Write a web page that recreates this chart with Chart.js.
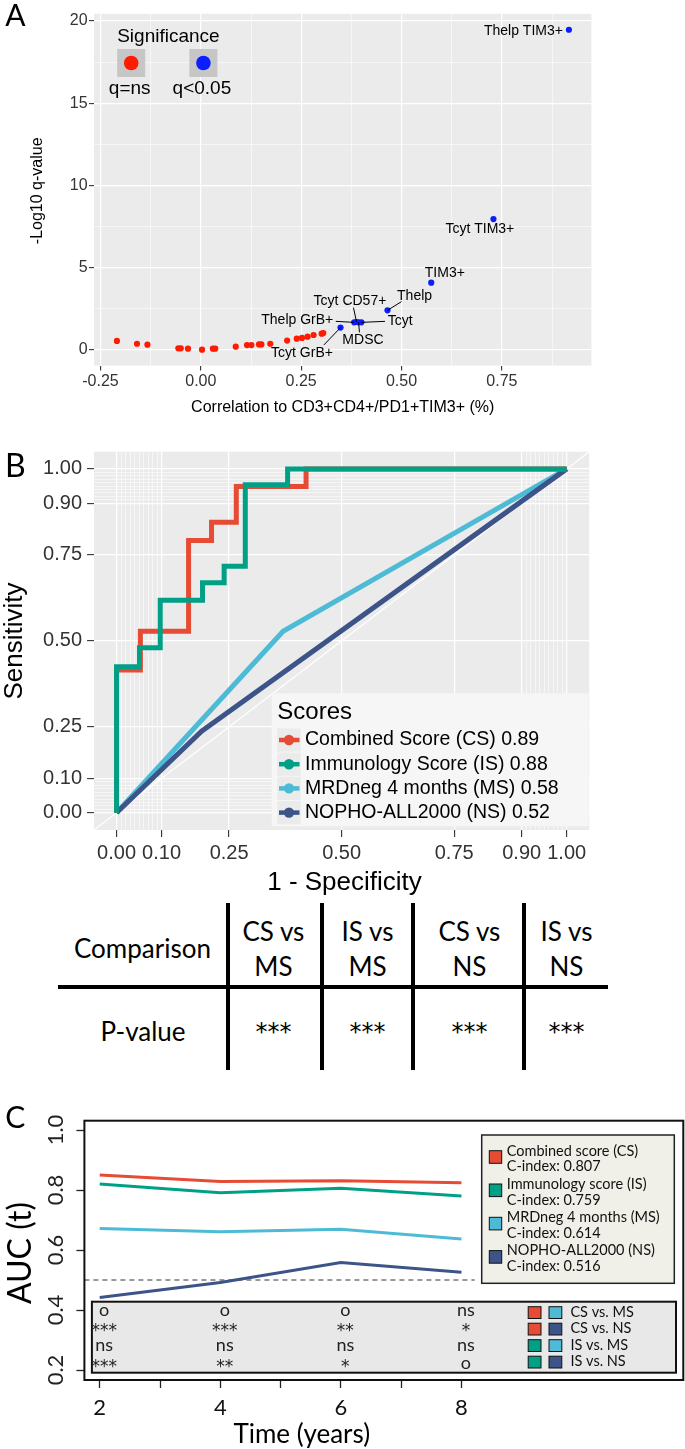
<!DOCTYPE html>
<html>
<head>
<meta charset="utf-8">
<script src="https://cdn.jsdelivr.net/npm/chart.js@4.4.1/dist/chart.umd.min.js"></script>
<style>
  html, body { margin: 0; padding: 0; background: #fff; }
  body { width: 685px; height: 1449px; position: relative; overflow: hidden; font-family: Lato, sans-serif; }
  canvas { position: absolute; left: 0; }
  #cA { top: 0; }
  #cB { top: 430px; }
  #cC { top: 1090px; }
  .t { position: absolute; text-align: center; white-space: nowrap; color: #000; font-family: Lato, sans-serif; }
  .ln { position: absolute; background: #000; }
</style>
</head>
<body>
<canvas id="cA" width="685" height="420"></canvas>
<canvas id="cB" width="685" height="470"></canvas>
<div id="tableB"></div>
<canvas id="cC" width="685" height="359"></canvas>
<script>
/* ================= DATA ================= */

// panel A : correlation vs -log10 q
const nsCorr = [-0.209, -0.159, -0.133, -0.056, -0.050, -0.032, 0.003, 0.030, 0.036, 0.087, 0.115,
                0.126, 0.145, 0.151, 0.173, 0.215, 0.239, 0.252, 0.266, 0.281, 0.301, 0.305];
const nsLogQ = [0.55, 0.38, 0.32, 0.10, 0.10, 0.08, 0.02, 0.08, 0.08, 0.20, 0.30,
                0.30, 0.34, 0.34, 0.38, 0.57, 0.69, 0.73, 0.81, 0.91, 0.99, 1.03];
const sigNames = ["Thelp TIM3+", "Tcyt TIM3+", "TIM3+", "Thelp", "Tcyt", "MDSC", "Tcyt CD57+", "Thelp GrB+", "Tcyt GrB+"];
const sigCorr = [0.917, 0.729, 0.574, 0.465, 0.400, 0.393, 0.388, 0.382, 0.348];
const sigLogQ = [19.47, 7.96, 4.09, 2.41, 1.68, 1.68, 1.70, 1.68, 1.36];
const aTicksX = [-0.25, 0, 0.25, 0.5, 0.75];
const aMinorX = [-0.125, 0.125, 0.375, 0.625, 0.875];
const aTicksY = [0, 5, 10, 15, 20];
const aMinorY = [2.5, 7.5, 12.5, 17.5];

// panel B : ROC curves
const scoreNamesB = ["Combined Score (CS)", "Immunology Score (IS)", "MRDneg 4 months (MS)", "NOPHO-ALL2000 (NS)"];
const aucB = ["0.89", "0.88", "0.58", "0.52"];
const csFpr = [0, 0, 0.053, 0.053, 0.160, 0.160, 0.211, 0.211, 0.266, 0.266, 0.421, 0.421, 1];
const csTpr = [0, 0.415, 0.415, 0.528, 0.528, 0.792, 0.792, 0.845, 0.845, 0.949, 0.949, 1, 1];
const isFpr = [0, 0, 0.051, 0.051, 0.097, 0.097, 0.191, 0.191, 0.239, 0.239, 0.286, 0.286, 0.380, 0.380, 1];
const isTpr = [0, 0.425, 0.425, 0.480, 0.480, 0.618, 0.618, 0.669, 0.669, 0.717, 0.717, 0.954, 0.954, 1, 1];
const msFpr = [0, 0.370, 1];
const msTpr = [0, 0.528, 1];
const nsFpr = [0, 0.189, 1];
const nsTpr = [0, 0.237, 1];
const bTicks = [0, 0.1, 0.25, 0.5, 0.75, 0.9, 1];
const bMinor = [0.01, 0.02, 0.03, 0.04, 0.05, 0.06, 0.07, 0.08, 0.09,
                0.91, 0.92, 0.93, 0.94, 0.95, 0.96, 0.97, 0.98, 0.99];
const compHeaders = [["CS vs", "MS"], ["IS vs", "MS"], ["CS vs", "NS"], ["IS vs", "NS"]];
const compP = ["***", "***", "***", "***"];

// panel C : time-dependent AUC
const years = [2, 4, 6, 8];
const aucCS = [0.850, 0.828, 0.831, 0.824];
const aucIS = [0.820, 0.791, 0.806, 0.780];
const aucMS = [0.672, 0.661, 0.669, 0.637];
const aucNS = [0.442, 0.492, 0.558, 0.526];
const refAuc = 0.5;
const scoreNamesC = ["Combined score (CS)", "Immunology score (IS)", "MRDneg 4 months (MS)", "NOPHO-ALL2000 (NS)"];
const cIndex = ["0.807", "0.759", "0.614", "0.516"];
const pairNames = ["CS vs. MS", "CS vs. NS", "IS vs. MS", "IS vs. NS"];
const pairSig = [["o", "o", "o", "ns"], ["***", "***", "**", "*"], ["ns", "ns", "ns", "ns"], ["***", "**", "*", "o"]];
const cTicksX = [2, 3, 4, 5, 6, 7, 8];
const cTicksY = [0.2, 0.4, 0.6, 0.8, 1.0];

/* ================= STYLE ================= */

const FONT_GG = "'Liberation Sans', Arial, sans-serif";
const FONT_C = "Lato, 'Open Sans', sans-serif";
const FONT_STAR = "'DejaVu Sans', sans-serif";
const RED = "#E64B35", GREEN = "#00A087", LBLUE = "#4DBBD5", NAVY = "#3C5488";
const scoreColors = [RED, GREEN, LBLUE, NAVY];
const pairColors = [[RED, LBLUE], [RED, NAVY], [GREEN, LBLUE], [GREEN, NAVY]];

// label placement for panel A (pixel offsets from the point)
const labelLayoutA = [
  { dx: -6, dy: 1, align: "right" },
  { dx: -13.6, dy: 10.3 },
  { dx: 13.6, dy: -9.3 },
  { dx: 27.1, dy: -14.3, seg: [14, -8.7] },
  { dx: 38.9, dy: -1, seg: [23.6, -1] },
  { dx: 4.4, dy: 17.3, seg: [0.9, 10] },
  { dx: -6.6, dy: -21, seg: [-3.1, -14.3] },
  { dx: -56.9, dy: -2, seg: [-18.4, -1] },
  { dx: -38.5, dy: 25.7, seg: [-16.6, 17.3] }
];

function txt(ctx, s, x, y, font, color, align, rot) {
  ctx.save();
  ctx.font = font;
  ctx.fillStyle = color || "#000";
  ctx.textAlign = align || "center";
  ctx.textBaseline = "middle";
  ctx.translate(x, y);
  if (rot) ctx.rotate(rot);
  ctx.fillText(s, 0, 0);
  ctx.restore();
}

const pts = (xs, ys) => xs.map((x, i) => ({ x: x, y: ys[i] }));

/* ================= SHARED PLUGINS ================= */

const panelBg = {
  id: "panelBg",
  beforeDraw(chart, args, opts) {
    const { ctx, chartArea: a } = chart;
    ctx.save();
    ctx.fillStyle = opts.color || "#ebebeb";
    ctx.fillRect(a.left, a.top, a.right - a.left, a.bottom - a.top);
    ctx.restore();
  }
};

function ggAxis(major, minor, fmt, min, max, size, fontPx, tickLen, pad) {
  const all = major.concat(minor).sort((a, b) => a - b);
  const isMajor = c => c.tick && major.includes(c.tick.value);
  return {
    type: "linear", min: min, max: max,
    afterBuildTicks: ax => { ax.ticks = all.map(v => ({ value: v })); },
    afterFit: s => { if (s.isHorizontal()) s.height = size; else s.width = size; },
    grid: {
      color: "#ffffff",
      lineWidth: c => isMajor(c) ? 1.2 : 0.55,
      tickColor: c => isMajor(c) ? "#333333" : "rgba(0,0,0,0)",
      tickLength: tickLen,
      tickWidth: 1.1
    },
    border: { display: false },
    ticks: {
      autoSkip: false, maxRotation: 0, minRotation: 0, padding: pad,
      color: "#333333", font: { family: FONT_GG, size: fontPx },
      callback: v => major.includes(v) ? fmt(v) : ""
    }
  };
}

/* ================= PANEL A ================= */

const labelsA = {
  id: "labelsA",
  afterDatasetsDraw(chart) {
    const { ctx, scales: { x, y } } = chart;
    sigNames.forEach((name, i) => {
      const px = x.getPixelForValue(sigCorr[i]);
      const py = y.getPixelForValue(sigLogQ[i]);
      const L = labelLayoutA[i];
      if (L.seg) {
        ctx.save();
        ctx.beginPath();
        ctx.moveTo(px, py);
        ctx.lineTo(px + L.seg[0], py + L.seg[1]);
        ctx.strokeStyle = "#000";
        ctx.lineWidth = 1;
        ctx.stroke();
        ctx.restore();
      }
      txt(ctx, name, px + L.dx, py + L.dy, `14px ${FONT_GG}`, "#000", L.align || "center");
    });
  }
};

const decorA = {
  id: "decorA",
  afterDraw(chart) {
    const ctx = chart.ctx;
    const a = chart.chartArea;
    // legend
    txt(ctx, "Significance", 117.2, 36.7, `19px ${FONT_GG}`, "#000", "left");
    [[117.2, "#ff1a00", "q=ns"], [189.4, "#0a1eff", "q<0.05"]].forEach(k => {
      ctx.fillStyle = "#c6c6c6";
      ctx.fillRect(k[0], 49, 28, 28);
      ctx.beginPath();
      ctx.arc(k[0] + 14, 63, 7.3, 0, Math.PI * 2);
      ctx.fillStyle = k[1];
      ctx.fill();
      txt(ctx, k[2], k[0] + 12.5, 88.3, `19px ${FONT_GG}`, "#000", "center");
    });
    // titles
    txt(ctx, "Correlation to CD3+CD4+/PD1+TIM3+ (%)", (a.left + a.right) / 2, 408, `16px ${FONT_GG}`, "#000");
    txt(ctx, "-Log10 q-value", 37.2, 190.8, `16px ${FONT_GG}`, "#000", "center", -Math.PI / 2);
    txt(ctx, "A", 15.3, 16, `30px ${FONT_C}`, "#000");
  }
};

new Chart(document.getElementById("cA"), {
  type: "scatter",
  data: {
    datasets: [
      { data: pts(nsCorr, nsLogQ), backgroundColor: "#ff1a00", borderWidth: 0, pointRadius: 3.1 },
      { data: pts(sigCorr, sigLogQ), backgroundColor: "#0a1eff", borderWidth: 0, pointRadius: 3.1 }
    ]
  },
  options: {
    responsive: false, animation: false,
    layout: { padding: { left: 0, right: 93.6, top: 13.8, bottom: 0 } },
    plugins: { legend: { display: false }, tooltip: { enabled: false }, panelBg: { color: "#ebebeb" } },
    scales: {
      x: ggAxis(aTicksX, aMinorX, v => v.toFixed(2), -0.266, 0.973, 54.4, 16, 5, 1),
      y: ggAxis(aTicksY, aMinorY, v => String(v), -0.95, 20.44, 94.05, 16, 5, 1.5)
    }
  },
  plugins: [panelBg, labelsA, decorA]
});

/* ================= PANEL B ================= */

const decorB = {
  id: "decorB",
  afterDraw(chart) {
    const ctx = chart.ctx;
    // legend
    ctx.fillStyle = "#f6f6f6";
    ctx.fillRect(271.7, 263.3, 317, 133);
    txt(ctx, "Scores", 277.3, 282.3, `24px ${FONT_GG}`, "#000", "left");
    scoreNamesB.forEach((n, i) => {
      const cy = 310 + i * 24.2;
      ctx.fillStyle = "#ebebeb";
      ctx.fillRect(277.3, cy - 11.6, 23.4, 23.2);
      ctx.beginPath();
      ctx.moveTo(279, cy);
      ctx.lineTo(299.5, cy);
      ctx.strokeStyle = scoreColors[i];
      ctx.lineWidth = 4.5;
      ctx.stroke();
      ctx.beginPath();
      ctx.arc(289, cy, 5.2, 0, Math.PI * 2);
      ctx.fillStyle = scoreColors[i];
      ctx.fill();
      txt(ctx, `${n} ${aucB[i]}`, 305, cy, `19.5px ${FONT_GG}`, "#000", "left");
    });
    // titles
    txt(ctx, "1 - Specificity", 344.5, 453.3, `26px ${FONT_GG}`, "#000");
    txt(ctx, "Sensitivity", 15.3, 211, `26px ${FONT_GG}`, "#000", "center", -Math.PI / 2);
    txt(ctx, "B", 15.3, 36.7, `32px ${FONT_C}`, "#000");
  }
};

const rocLine = (xs, ys, color, order) => ({
  data: pts(xs, ys), showLine: true, borderColor: color, borderWidth: 5,
  pointRadius: 0, borderJoinStyle: "miter", borderCapStyle: "butt", order: order
});

new Chart(document.getElementById("cB"), {
  type: "scatter",
  data: {
    datasets: [
      { data: pts([-0.05, 1.05], [-0.05, 1.05]), showLine: true, borderColor: "#ffffff", borderWidth: 1.2, pointRadius: 0, order: 5 },
      rocLine(msFpr, msTpr, LBLUE, 4),
      rocLine(nsFpr, nsTpr, NAVY, 3),
      rocLine(csFpr, csTpr, RED, 2),
      rocLine(isFpr, isTpr, GREEN, 1)
    ]
  },
  options: {
    responsive: false, animation: false,
    layout: { padding: { left: 0, right: 95.8, top: 21.7, bottom: 0 } },
    plugins: { legend: { display: false }, tooltip: { enabled: false }, panelBg: { color: "#ebebeb" } },
    scales: {
      x: ggAxis(bTicks, bMinor, v => v.toFixed(2), -0.05, 1.05, 70, 20, 7, 4),
      y: ggAxis(bTicks, bMinor, v => v.toFixed(2), -0.05, 1.05, 94.05, 20, 7, 5)
    }
  },
  plugins: [panelBg, decorB]
});

/* ================= TABLE B ================= */

const tableB = document.getElementById("tableB");
const colCenters = [273.4, 367.5, 469.4, 566.5];
function addText(s, cx, cy, size, family) {
  const d = document.createElement("div");
  d.className = "t";
  d.textContent = s;
  d.style.left = (cx - 100) + "px";
  d.style.width = "200px";
  d.style.top = (cy - size * 0.6) + "px";
  d.style.fontSize = size + "px";
  d.style.lineHeight = (size * 1.2) + "px";
  if (family) d.style.fontFamily = family;
  tableB.appendChild(d);
}
function addLine(l, t, w, h) {
  const d = document.createElement("div");
  d.className = "ln";
  Object.assign(d.style, { left: l + "px", top: t + "px", width: w + "px", height: h + "px" });
  tableB.appendChild(d);
}
[227.5, 321.5, 413.4, 524].forEach(x => addLine(x - 2, 903, 4, 167));
addLine(58.2, 984.6, 550, 4.3);
addText("Comparison", 142.5, 949, 26);
addText("P-value", 143, 1031.7, 26);
compHeaders.forEach((h, i) => {
  addText(h[0], colCenters[i], 931.7, 26);
  addText(h[1], colCenters[i], 966.7, 26);
  addText(compP[i], colCenters[i], 1032, 24, FONT_STAR);
});

/* ================= PANEL C ================= */

const decorC = {
  id: "decorC",
  afterDatasetsDraw(chart) {
    const ctx = chart.ctx;
    const x = chart.scales.x;
    // legend box
    ctx.save();
    ctx.fillStyle = "#f0efe8";
    ctx.fillRect(481.7, 45, 192.6, 148.3);
    ctx.strokeStyle = "#222";
    ctx.lineWidth = 1.5;
    ctx.strokeRect(481.7, 45, 192.6, 148.3);
    scoreNamesC.forEach((n, i) => {
      const top = 60.7 + i * 33.3;
      ctx.fillStyle = scoreColors[i];
      ctx.fillRect(489.3, top, 12.4, 12.6);
      ctx.lineWidth = 1;
      ctx.strokeStyle = "#111";
      ctx.strokeRect(489.3, top, 12.4, 12.6);
      txt(ctx, n, 506.7, 61 + i * 33.1, `14.5px ${FONT_C}`, "#111", "left");
      txt(ctx, "C-index: " + cIndex[i], 506.7, 76.5 + i * 33.4, `14.5px ${FONT_C}`, "#111", "left");
    });
    // significance box
    ctx.fillStyle = "#e8e8e8";
    ctx.fillRect(91.9, 211.7, 584.1, 71);
    ctx.strokeStyle = "#111";
    ctx.lineWidth = 2;
    ctx.strokeRect(91.9, 211.7, 584.1, 71);
    pairSig.forEach((row, r) => {
      const cy = 220 + r * 17.8;
      row.forEach((s, j) => {
        const px = x.getPixelForValue(years[j]) + 4.5;
        if (s.includes("*")) txt(ctx, s, px, cy + 4, `17px ${FONT_STAR}`, "#222");
        else txt(ctx, s, px, cy, `18px ${FONT_C}`, "#222");
      });
      const top = 216.7 + r * 16.5;
      pairColors[r].forEach((c, k) => {
        const left = k === 0 ? 528.2 : 549;
        ctx.fillStyle = c;
        ctx.fillRect(left, top, 12.8, 11.8);
        ctx.lineWidth = 1;
        ctx.strokeStyle = "#111";
        ctx.strokeRect(left, top, 12.8, 11.8);
      });
      txt(ctx, pairNames[r], 570.4, top + 5.6, `14.5px ${FONT_C}`, "#111", "left");
    });
    ctx.restore();
  },
  afterDraw(chart) {
    const ctx = chart.ctx;
    const a = chart.chartArea;
    const y = chart.scales.y;
    ctx.save();
    ctx.strokeStyle = "#111";
    ctx.lineWidth = 2;
    ctx.strokeRect(a.left, a.top, a.right - a.left, a.bottom - a.top);
    ctx.restore();
    cTicksY.forEach(v => {
      txt(ctx, v.toFixed(1), 55.8, y.getPixelForValue(v), `22px ${FONT_C}`, "#222", "center", -Math.PI / 2);
    });
    txt(ctx, "AUC (t)", 20.8, 163, `32px ${FONT_C}`, "#000", "center", -Math.PI / 2);
    txt(ctx, "Time (years)", 301.8, 345, `26px ${FONT_C}`, "#000");
    txt(ctx, "C", 15.3, 28.5, `30px ${FONT_C}`, "#000");
  }
};

const aucLine = (ys, color) => ({
  data: pts(years, ys), showLine: true, borderColor: color, borderWidth: 3,
  pointRadius: 0, tension: 0
});

const cXMin = 1.746, cXMax = 11.68;

new Chart(document.getElementById("cC"), {
  type: "scatter",
  data: {
    datasets: [
      aucLine(aucCS, RED),
      aucLine(aucIS, GREEN),
      aucLine(aucMS, LBLUE),
      aucLine(aucNS, NAVY),
      { data: pts([cXMin, 8.22], [refAuc, refAuc]), showLine: true, borderColor: "#333", borderWidth: 1,
        borderDash: [5, 4], pointRadius: 0 }
    ]
  },
  options: {
    responsive: false, animation: false,
    layout: { padding: { left: 0, right: 1.7, top: 30.7, bottom: 0 } },
    plugins: { legend: { display: false }, tooltip: { enabled: false } },
    scales: {
      x: {
        type: "linear", min: cXMin, max: cXMax,
        afterBuildTicks: ax => { ax.ticks = cTicksX.map(v => ({ value: v })); },
        afterFit: s => { s.height = 69; },
        grid: { drawOnChartArea: false, drawTicks: true, tickLength: 8, tickColor: "#222", tickWidth: 1.3 },
        border: { display: false },
        ticks: {
          autoSkip: false, maxRotation: 0, padding: 7, color: "#111",
          font: { family: FONT_C, size: 22 },
          callback: v => v % 2 === 0 ? String(v) : ""
        }
      },
      y: {
        type: "linear", min: 0.1667, max: 1.031,
        afterBuildTicks: ax => { ax.ticks = cTicksY.map(v => ({ value: v })); },
        afterFit: s => { s.width = 84.4; },
        grid: { drawOnChartArea: false, drawTicks: true, tickLength: 8, tickColor: "#222", tickWidth: 1.3 },
        border: { display: false },
        ticks: { display: false }
      }
    }
  },
  plugins: [decorC]
});
</script>
</body>
</html>
